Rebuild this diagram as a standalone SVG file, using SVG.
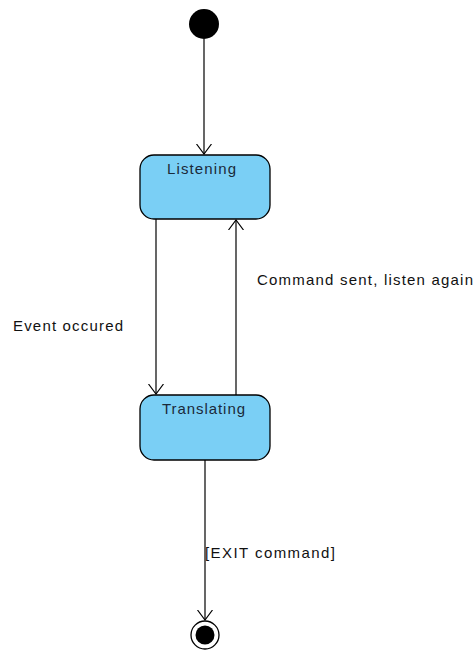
<svg xmlns="http://www.w3.org/2000/svg" width="475" height="652" viewBox="0 0 475 652">
  <style>
    .state { fill: #7acff5; stroke: #000; stroke-width: 1.3; }
    .line { fill: none; stroke: #000; stroke-width: 1.2; }
    .name { font-family: "Liberation Sans", Arial, sans-serif; font-size: 15px; fill: #1a2a3a; }
    .label { font-family: "Liberation Sans", Arial, sans-serif; font-size: 15px; fill: #111; }
  </style>
  <defs>
    <marker id="open-arrow" markerWidth="20" markerHeight="20" refX="10" refY="10" orient="auto" markerUnits="userSpaceOnUse">
      <path d="M 0 2.5 L 10 10 L 0 17.5" fill="none" stroke="#000" stroke-width="1.2"/>
    </marker>
  </defs>

  <g id="connectors">
    <line class="line" x1="204" y1="39" x2="204" y2="154" marker-end="url(#open-arrow)"/>
    <line class="line" x1="156" y1="219" x2="156" y2="394" marker-end="url(#open-arrow)"/>
    <line class="line" x1="236" y1="395" x2="236" y2="220" marker-end="url(#open-arrow)"/>
    <line class="line" x1="205" y1="460" x2="205" y2="620" marker-end="url(#open-arrow)"/>
    <text class="label" x="13" y="331" textLength="110" lengthAdjust="spacing">Event occured</text>
    <text class="label" x="257" y="285" textLength="216" lengthAdjust="spacing">Command sent, listen again</text>
    <text class="label" x="205" y="558" textLength="130" lengthAdjust="spacing">[EXIT command]</text>
  </g>

  <g id="initial">
    <circle cx="204" cy="24" r="15" fill="#000"/>
  </g>

  <g id="listening">
    <rect class="state" x="140" y="155" width="130" height="64" rx="14" ry="14"/>
    <text class="name" x="167" y="174" textLength="69" lengthAdjust="spacing">Listening</text>
  </g>

  <g id="translating">
    <rect class="state" x="140" y="395" width="130" height="65" rx="14" ry="14"/>
    <text class="name" x="162" y="414" textLength="83" lengthAdjust="spacing">Translating</text>
  </g>

  <g id="final">
    <circle cx="205" cy="635" r="14" fill="#fff" stroke="#000" stroke-width="1.3"/>
    <circle cx="205" cy="635" r="9.5" fill="#000"/>
  </g>
</svg>
